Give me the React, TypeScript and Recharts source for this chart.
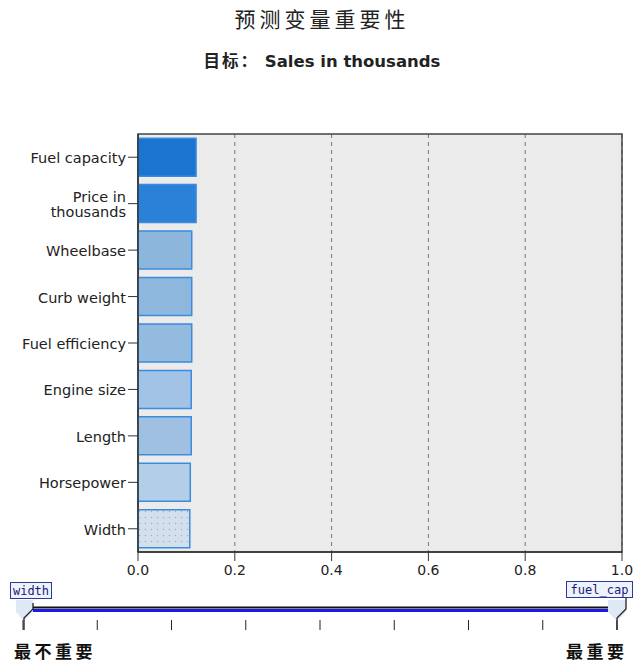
import React from "react";
import {
  BarChart,
  Bar,
  XAxis,
  YAxis,
  CartesianGrid,
  Cell,
  ReferenceArea,
} from "recharts";

const predictors = [
  "Fuel capacity",
  "Price in thousands",
  "Wheelbase",
  "Curb weight",
  "Fuel efficiency",
  "Engine size",
  "Length",
  "Horsepower",
  "Width",
];
const importance = [0.12, 0.12, 0.111, 0.111, 0.111, 0.11, 0.11, 0.108, 0.107];
const barColors = [
  "#1a75d1",
  "#2b80d8",
  "#8db6dd",
  "#8eb7dd",
  "#93badf",
  "#a2c3e5",
  "#a0c0e1",
  "#b3cfe7",
  "url(#dots)",
];
const xTicks = [0, 0.2, 0.4, 0.6, 0.8, 1.0];
const sliderTickCount = 9;

const data = predictors.map((name, i) => ({ name, value: importance[i] }));

const FONT = "'DejaVu Sans', Verdana, sans-serif";
const CJK = "'Noto Sans CJK SC', sans-serif";

const YTick = (props: any) => {
  const { x, y, payload } = props;
  const label: string = payload.value;
  const lines = label === "Price in thousands" ? ["Price in", "thousands"] : [label];
  const lh = 15;
  const start = -((lines.length - 1) * lh) / 2;
  return (
    <g>
      {lines.map((l, i) => (
        <text
          key={i}
          x={x}
          y={y + start + i * lh}
          dy={6}
          textAnchor="end"
          fontFamily={FONT}
          fontSize={14.5}
          fill="#222"
        >
          {l}
        </text>
      ))}
    </g>
  );
};

export default function App() {
  const sliderLeft = 23;
  const sliderRight = 617;
  const step = (sliderRight - sliderLeft) / (sliderTickCount - 1);
  const ticks = Array.from({ length: sliderTickCount }, (_, i) => sliderLeft + i * step);
  return (
    <div style={{ position: "absolute", left: 0, top: 0, width: 633, height: 663, background: "#fff" }}>
      <BarChart
        width={633}
        height={663}
        data={data}
        layout="vertical"
        margin={{ top: 134, right: 11, bottom: 0, left: 0 }}
        barCategoryGap="9%"
      >
        <defs>
          <pattern id="dots" width="6" height="6" patternUnits="userSpaceOnUse">
            <rect width="6" height="6" fill="#d3e0ec" />
            <circle cx="1.5" cy="1.5" r="0.7" fill="#8fb0d0" />
          </pattern>
        </defs>
        <CartesianGrid
          horizontal={false}
          vertical
          fill="#ebebeb"
          stroke="#777"
          strokeDasharray="4 4"
        />
        <XAxis
          type="number"
          domain={[0, 1]}
          ticks={xTicks}
          tickFormatter={(v: number) => v.toFixed(1)}
          axisLine={{ stroke: "#333", strokeWidth: 1.5 }}
          tickLine={{ stroke: "#333" }}
          tickSize={9}
          tickMargin={4}
          tick={{ fontFamily: FONT, fontSize: 14, fill: "#222" }}
          height={111}
          interval={0}
        />
        <YAxis
          type="category"
          dataKey="name"
          width={138}
          axisLine={{ stroke: "#333", strokeWidth: 1.5 }}
          tickLine={{ stroke: "#333" }}
          tickSize={10}
          tick={<YTick />}
          interval={0}
        />
        <Bar dataKey="value" isAnimationActive={false} stroke="#3b8be0" strokeWidth={1.5}>
          {data.map((d, i) => (
            <Cell key={d.name} fill={barColors[i]} />
          ))}
        </Bar>
        <ReferenceArea
          x1={0}
          x2={1}
          fill="none"
          fillOpacity={0}
          stroke="#444"
          strokeWidth={1.5}
        />
      </BarChart>
      <svg
        width={633}
        height={663}
        style={{ position: "absolute", left: 0, top: 0, pointerEvents: "none" }}
      >
        <text x={322} y={27} textAnchor="middle" fontFamily={CJK} fontSize={21} letterSpacing={4} fill="#222">
          预测变量重要性
        </text>
        <text x={322} y={67} textAnchor="middle" fontFamily={FONT} fontSize={16.5} fontWeight="bold" fill="#222">
          <tspan fontFamily={CJK} letterSpacing={2}>目标：</tspan> Sales in thousands
        </text>
        {/* slider */}
        <line x1={32} x2={608} y1={607.5} y2={607.5} stroke="#111" strokeWidth={2} />
        <line x1={32} x2={608} y1={610.5} y2={610.5} stroke="#1a1ae0" strokeWidth={3} />
        {ticks.map((t, i) => (
          <line key={i} x1={t} x2={t} y1={620} y2={630} stroke="#222" strokeWidth={1} />
        ))}
        <path d="M16 600 L33 600 L33 612 L24 621 L16 612 Z" fill="#dfe9f5" />
        <path d="M33 603 L33 609 L24 618 L24 630" fill="none" stroke="#222" strokeWidth={1.3} />
        <rect x={10.5} y={582.5} width={41} height={16} fill="#eef2fb" stroke="#2a3a9a" />
        <text x={31} y={595} textAnchor="middle" fontFamily="'DejaVu Sans Mono', monospace" fontSize={12} fill="#1a1a7a">
          width
        </text>
        <path d="M608 600 L626 600 L626 612 L617 621 L608 612 Z" fill="#dfe9f5" />
        <path d="M626 598 L626 609 L617 618 L617 630" fill="none" stroke="#222" strokeWidth={1.3} />
        <rect x={566.5} y={581.5} width={66} height={16} fill="#eef2fb" stroke="#2a3a9a" />
        <text x={599.5} y={594} textAnchor="middle" fontFamily="'DejaVu Sans Mono', monospace" fontSize={12} fill="#1a1a7a">
          fuel_cap
        </text>
        <text x={14} y={658} fontFamily={CJK} fontSize={17} letterSpacing={3.5} fontWeight="bold" fill="#111">
          最不重要
        </text>
        <text x={566} y={658} fontFamily={CJK} fontSize={17} letterSpacing={3.5} fontWeight="bold" fill="#111">
          最重要
        </text>
      </svg>
    </div>
  );
}
